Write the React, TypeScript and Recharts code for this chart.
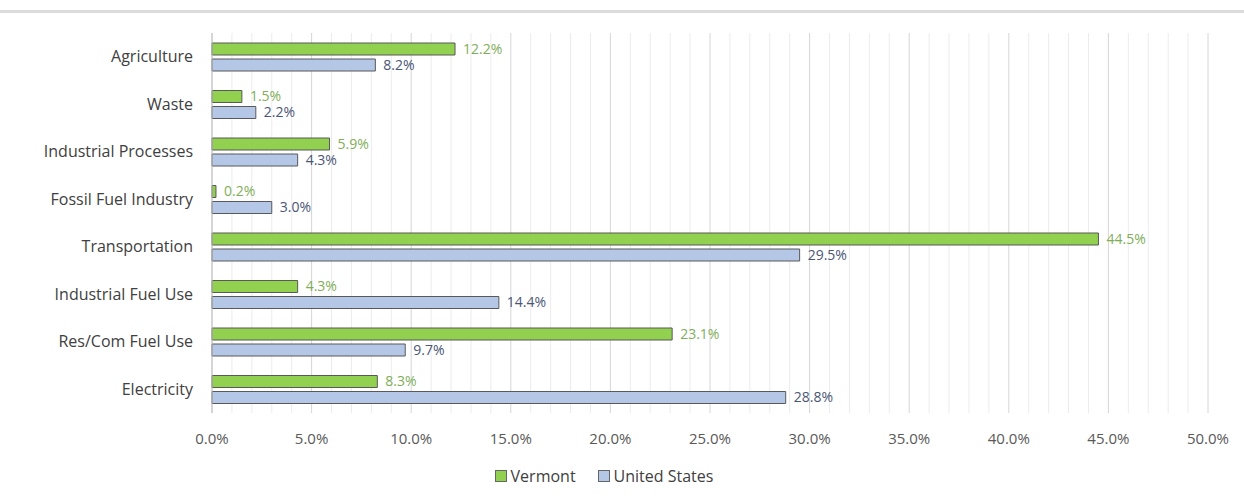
import React from "react";
import {
  BarChart,
  Bar,
  XAxis,
  YAxis,
  CartesianGrid,
  Legend,
  LabelList,
  ReferenceLine,
} from "recharts";

const categories = [
  "Agriculture",
  "Waste",
  "Industrial Processes",
  "Fossil Fuel Industry",
  "Transportation",
  "Industrial Fuel Use",
  "Res/Com Fuel Use",
  "Electricity",
];
const vermont = [12.2, 1.5, 5.9, 0.2, 44.5, 4.3, 23.1, 8.3];
const unitedStates = [8.2, 2.2, 4.3, 3.0, 29.5, 14.4, 9.7, 28.8];
const majorTicks = [0, 5, 10, 15, 20, 25, 30, 35, 40, 45, 50];
const minorTicks = Array.from({ length: 51 }, (_, i) => i).filter((v) => v % 5 !== 0);
const seriesOrder = ["Vermont", "United States"];

const data = categories.map((name, i) => ({
  name,
  vermont: vermont[i],
  us: unitedStates[i],
}));

const FONT = "'Open Sans', 'Noto Sans', sans-serif";
const pct = (v: any) => `${Number(v).toFixed(1)}%`;

// ─── Legend with outlined squares ─────────────────────────────────────────────

function LegendContent(props: any) {
  const items = [...(props.payload || [])]
    .filter((p: any) => seriesOrder.includes(p.value))
    .sort((a: any, b: any) => seriesOrder.indexOf(a.value) - seriesOrder.indexOf(b.value));
  return (
    <div style={{ display: "flex", justifyContent: "center", gap: 22, fontFamily: FONT, fontSize: 16, color: "#404040" }}>
      {items.map((p: any) => (
        <div key={p.value} style={{ display: "flex", alignItems: "center", gap: 4 }}>
          <span style={{ width: 10, height: 10, background: p.color, border: "1px solid #666", display: "inline-block" }} />
          <span>{p.value}</span>
        </div>
      ))}
    </div>
  );
}

export default function App() {
  return (
    <div style={{ width: 1244, height: 497, background: "#fff", position: "relative" }}>
      <style>{"body{margin:0}"}</style>
      <div style={{ position: "absolute", left: 0, top: 10, width: 1244, height: 3, background: "#dcdcdc" }} />

      {/* background chart: minor gridlines every 1%, kept behind the bars */}
      <div style={{ position: "absolute", left: 0, top: 0 }}>
        <BarChart
          width={1244}
          height={497}
          data={data}
          layout="vertical"
          margin={{ top: 33, right: 36, bottom: 84, left: 212 }}
        >
          <XAxis type="number" domain={[0, 50]} ticks={majorTicks} allowDataOverflow hide />
          <YAxis type="category" dataKey="name" hide />
          {minorTicks.map((t) => (
            <ReferenceLine key={t} x={t} stroke="#ececec" />
          ))}
          <Bar dataKey="vermont" fill="transparent" stroke="none" legendType="none" isAnimationActive={false} />
        </BarChart>
      </div>

      <div style={{ position: "absolute", left: 0, top: 0 }}>
        <BarChart
          width={1244}
          height={497}
          data={data}
          layout="vertical"
          margin={{ top: 33, right: 36, bottom: 8, left: 0 }}
          barSize={12}
          barGap={4}
        >
          <CartesianGrid horizontal={false} stroke="#d6d6d6" />
          <XAxis
            type="number"
            domain={[0, 50]}
            ticks={majorTicks}
            tickFormatter={pct}
            axisLine={false}
            tickLine={false}
            tickSize={0}
            tickMargin={20}
            height={52}
            tick={{ fontSize: 15, fill: "#595959", fontFamily: FONT }}
          />
          <YAxis
            type="category"
            dataKey="name"
            width={212}
            axisLine={{ stroke: "#bfbfbf" }}
            tickLine={false}
            tickSize={0}
            tickMargin={19}
            tick={{ fontSize: 16, fill: "#404040", fontFamily: FONT }}
          />
          <Legend verticalAlign="bottom" height={24} content={<LegendContent />} />
          <Bar dataKey="vermont" name="Vermont" fill="#92d050" stroke="#595959" strokeWidth={1} isAnimationActive={false}>
            <LabelList dataKey="vermont" position="right" offset={8} formatter={pct} fill="#7fae5a" fontSize={14} fontFamily={FONT} />
          </Bar>
          <Bar dataKey="us" name="United States" fill="#b4c7e7" stroke="#595959" strokeWidth={1} isAnimationActive={false}>
            <LabelList dataKey="us" position="right" offset={8} formatter={pct} fill="#4a5675" fontSize={14} fontFamily={FONT} />
          </Bar>
        </BarChart>
      </div>
    </div>
  );
}
